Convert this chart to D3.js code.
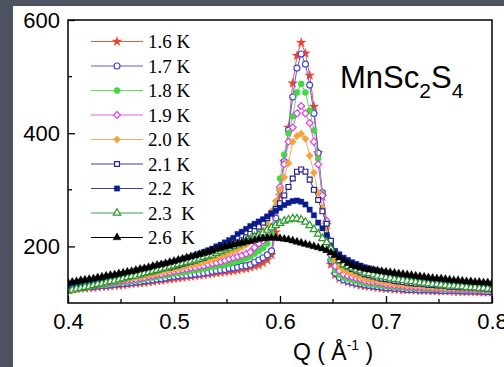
<!DOCTYPE html>
<html>
<head>
<meta charset="utf-8">
<script src="https://cdn.jsdelivr.net/npm/d3@7"></script>
<style>
  html, body { margin: 0; padding: 0; background: #4d5361; }
  svg { display: block; }
</style>
</head>
<body>
<svg id="chart" width="504" height="367"></svg>
<script>
// Scattering momentum transfer Q (Å^-1)
const qValues = [
  0.400,0.404,0.408,0.412,0.416, 0.420,0.424,0.428,0.432,0.436,
  0.440,0.444,0.448,0.452,0.456, 0.460,0.464,0.468,0.472,0.476,
  0.480,0.484,0.488,0.492,0.496, 0.500,0.504,0.508,0.512,0.516,
  0.520,0.524,0.528,0.532,0.536, 0.540,0.544,0.548,0.552,0.556,
  0.560,0.564,0.568,0.572,0.576, 0.580,0.584,0.588,0.592,0.596,
  0.600,0.604,0.608,0.612,0.616, 0.620,0.624,0.628,0.632,0.636,
  0.640,0.644,0.648,0.652,0.656, 0.660,0.664,0.668,0.672,0.676,
  0.680,0.684,0.688,0.692,0.696, 0.700,0.704,0.708,0.712,0.716,
  0.720,0.724,0.728,0.732,0.736, 0.740,0.744,0.748,0.752,0.756,
  0.760,0.764,0.768,0.772,0.776, 0.780,0.784,0.788,0.792,0.796,
  0.800
];

// Intensity at each temperature
const s16 = [
  124,124,125,126,126, 127,127,128,129,129, 130,131,131,132,133, 134,135,135,136,137,
  138,139,140,141,142, 143,144,145,146,147, 148,149,150,151,152, 153,154,155,156,157,
  158,160,161,163,165, 167,171,176,185,225, 290,350,410,488,537, 560,541,502,447,365,
  288,238,168,150,143, 140,137,135,133,131, 130,129,128,127,126, 125,125,124,124,123,
  123,123,122,122,122, 122,121,121,121,121, 121,120,120,120,120, 120,120,119,119,119,
  119
];
const s17 = [
  126,126,127,127,128, 129,129,130,131,131, 132,133,134,134,135, 136,137,138,139,140,
  141,142,143,144,146, 147,148,149,149,150, 151,152,153,154,156, 157,158,159,161,162,
  163,165,166,168,172, 176,180,185,192,250, 300,350,405,464,515, 540,522,485,435,365,
  295,242,175,153,145, 141,139,137,135,134, 132,131,130,129,128, 127,127,126,126,125,
  124,124,124,123,123, 123,123,123,122,122, 122,122,122,121,121, 121,121,121,120,120,
  120
];
const s18 = [
  126,127,128,128,129, 130,131,132,132,133, 134,135,136,137,138, 139,140,141,142,144,
  145,146,148,149,150, 152,153,154,155,157, 158,159,161,162,164, 165,167,168,170,172,
  174,176,179,182,187, 192,197,205,222,270, 320,362,400,430,472, 487,472,440,405,355,
  292,240,178,158,150, 145,143,141,139,137, 135,134,133,132,131, 130,129,129,128,128,
  127,127,126,126,125, 125,125,125,124,124, 124,124,124,123,123, 123,123,123,122,122,
  122
];
const s19 = [
  127,128,129,129,130, 131,132,133,134,135, 136,137,138,139,140, 141,142,144,145,147,
  148,150,151,153,154, 156,157,159,160,162, 163,165,166,168,170, 171,173,175,178,180,
  182,184,187,190,198, 205,210,215,232,265, 305,345,385,410,435, 448,435,418,385,345,
  290,245,185,165,157, 151,148,146,144,142, 139,138,137,136,135, 133,132,131,131,130,
  129,129,128,128,127, 127,127,126,126,126, 125,125,125,125,124, 124,124,124,123,123,
  123
];
const s20 = [
  128,129,130,130,131, 132,133,134,135,137, 138,139,140,142,143, 144,146,147,149,150,
  151,153,155,157,158, 160,161,163,165,167, 168,170,172,175,177, 180,183,186,189,192,
  195,199,203,210,216, 222,228,240,262,280, 300,322,347,385,395, 399,390,360,330,295,
  268,232,200,175,165, 158,155,152,149,147, 143,142,141,139,138, 136,135,134,133,132,
  131,131,130,130,129, 129,128,128,128,127, 127,127,126,126,126, 126,125,125,125,124,
  124
];
const s21 = [
  130,131,132,133,134, 135,136,137,138,140, 141,142,144,145,146, 148,150,151,153,155,
  156,158,160,162,163, 165,167,169,171,173, 175,178,180,183,186, 189,192,196,199,203,
  207,211,216,222,227, 235,242,250,258,266, 276,290,305,320,332, 336,332,318,300,282,
  262,240,210,185,175, 168,164,160,157,154, 151,149,147,145,143, 142,141,139,138,137,
  136,135,134,134,133, 132,132,131,131,130, 129,129,128,128,128, 127,127,126,126,125,
  125
];
const s22 = [
  133,134,135,137,138, 139,140,142,143,145, 146,148,149,151,152, 154,156,158,160,161,
  163,165,167,169,170, 172,174,177,179,181, 184,187,190,193,196, 200,203,207,211,215,
  222,226,231,236,240, 244,248,253,258,263, 268,273,277,280,281, 279,274,265,255,242,
  232,220,200,192,186, 180,176,172,169,166, 163,161,159,157,155, 153,151,150,148,147,
  146,144,143,142,141, 139,139,138,137,137, 136,135,135,134,134, 134,133,133,132,132,
  132
];
const s23 = [
  121,123,125,126,128, 129,131,133,134,136, 138,139,141,143,145, 147,148,150,152,154,
  156,158,160,162,164, 166,168,170,172,174, 176,178,181,183,185, 188,191,194,197,200,
  203,206,210,213,217, 220,224,229,233,237, 241,245,247,249,249, 247,243,237,230,222,
  214,207,196,185,175, 168,165,162,159,157, 153,152,150,148,147, 145,144,142,141,140,
  139,138,137,136,135, 134,133,133,132,131, 130,130,129,129,128, 127,127,126,126,125,
  125
];
const s26 = [
  136,137,138,140,141, 142,143,145,146,148, 149,150,152,153,155, 156,158,160,161,163,
  165,167,168,170,172, 174,176,178,180,182, 184,186,188,190,192, 195,197,199,201,203,
  205,206,208,209,211, 213,214,215,215,215, 214,213,212,210,208, 206,204,202,200,198,
  196,193,189,185,180, 175,170,166,164,162, 160,159,158,157,156, 155,154,153,152,151,
  150,149,148,147,146, 145,144,143,143,142, 141,140,140,139,138, 138,137,137,136,136,
  135
];

const seriesLabels = ["1.6 K", "1.7 K", "1.8 K", "1.9 K", "2.0 K", "2.1 K", "2.2  K", "2.3  K", "2.6  K"];
const seriesValues = [s16, s17, s18, s19, s20, s21, s22, s23, s26];

const xTicks = [0.4, 0.5, 0.6, 0.7, 0.8];
const xMinorTicks = [0.45, 0.55, 0.65, 0.75];
const yTicks = [200, 400, 600];
const yMinorTicks = [300, 500];

// Marker style for each temperature
const diamond = {
  draw(ctx, size) {
    const r = Math.sqrt(size / 2);
    ctx.moveTo(0, -r); ctx.lineTo(r, 0); ctx.lineTo(0, r); ctx.lineTo(-r, 0); ctx.closePath();
  }
};
const styles = [
  { shape: d3.symbolStar,     size: 28, color: "#e8452f", line: "#e85a4a", filled: true },
  { shape: d3.symbolCircle,   size: 28, color: "#4545d6", line: "#5c5ce0", filled: false },
  { shape: d3.symbolCircle,   size: 30, color: "#3fdc3f", line: "#5ee05e", filled: true },
  { shape: diamond,           size: 24, color: "#e040e4", line: "#e060e6", filled: false },
  { shape: diamond,           size: 28, color: "#f4a43e", line: "#f2aa5c", filled: true },
  { shape: d3.symbolSquare,   size: 24, color: "#25258f", line: "#3c3c96", filled: false },
  { shape: d3.symbolSquare,   size: 28, color: "#0b1c8c", line: "#3344b0", filled: true },
  { shape: d3.symbolTriangle, size: 24, color: "#28982a", line: "#3fa03f", filled: false },
  { shape: d3.symbolTriangle, size: 28, color: "#000000", line: "#000000", filled: true }
];

const svg = d3.select("#chart");

// White figure panel
svg.append("rect").attr("x", 13).attr("y", 6).attr("width", 491).attr("height", 361).attr("fill", "#ffffff");

const plotLeft = 68, plotRight = 492, plotTop = 20, plotBottom = 303;
const x = d3.scaleLinear().domain([0.4, 0.8]).range([plotLeft, plotRight]);
const y = d3.scaleLinear().domain([100, 600]).range([plotBottom, plotTop]);

svg.append("clipPath").attr("id", "plot-clip")
  .append("rect").attr("x", plotLeft).attr("y", plotTop)
  .attr("width", plotRight - plotLeft).attr("height", plotBottom - plotTop);

const plot = svg.append("g").attr("clip-path", "url(#plot-clip)");

const line = d3.line().x((d, i) => x(qValues[i])).y(d => y(d));

seriesValues.forEach((vals, k) => {
  const st = styles[k];
  const g = plot.append("g");
  g.append("path").attr("d", line(vals)).attr("fill", "none")
    .attr("stroke", st.line).attr("stroke-width", 1);
  g.selectAll("path.m").data(vals).join("path").attr("class", "m")
    .attr("transform", (d, i) => `translate(${x(qValues[i])},${y(d)})`)
    .attr("d", d3.symbol().type(st.shape).size(st.size))
    .attr("fill", st.filled ? st.color : "#ffffff")
    .attr("stroke", st.color)
    .attr("stroke-width", st.filled ? 0.4 : 1.2);
});

// Axes with inward ticks
const font = "'Liberation Sans', Arial, Helvetica, sans-serif";
const xAxis = svg.append("g").attr("transform", `translate(0,${plotBottom})`)
  .call(d3.axisBottom(x).tickValues(xTicks).tickFormat(d3.format(".1f")).tickSizeInner(-7).tickSizeOuter(0).tickPadding(10));
const yAxis = svg.append("g").attr("transform", `translate(${plotLeft},0)`)
  .call(d3.axisLeft(y).tickValues(yTicks).tickFormat(d3.format("d")).tickSizeInner(-7).tickSizeOuter(0).tickPadding(8));
[xAxis, yAxis].forEach(a => {
  a.select(".domain").remove();
  a.selectAll(".tick line").attr("stroke", "#000").attr("stroke-width", 1.3);
  a.selectAll(".tick text").attr("fill", "#000").style("font-family", font).style("font-size", "22px");
});

svg.append("g").selectAll("line").data(xMinorTicks).join("line")
  .attr("x1", d => x(d)).attr("x2", d => x(d)).attr("y1", plotBottom).attr("y2", plotBottom - 4)
  .attr("stroke", "#000").attr("stroke-width", 1.3);
svg.append("g").selectAll("line").data(yMinorTicks).join("line")
  .attr("x1", plotLeft).attr("x2", plotLeft + 4).attr("y1", d => y(d)).attr("y2", d => y(d))
  .attr("stroke", "#000").attr("stroke-width", 1.3);

// Frame
svg.append("rect").attr("x", plotLeft).attr("y", plotTop)
  .attr("width", plotRight - plotLeft).attr("height", plotBottom - plotTop)
  .attr("fill", "none").attr("stroke", "#000").attr("stroke-width", 1.5);

// Axis title
const xt = svg.append("text").attr("x", 293).attr("y", 360)
  .style("font-family", font).style("font-size", "23px").attr("fill", "#000")
  .style("white-space", "pre");
xt.append("tspan").text("Q ( Å");
xt.append("tspan").attr("dy", -10).style("font-size", "14px").text("-1");
xt.append("tspan").attr("dy", 10).text(" )");

// Compound label
const lab = svg.append("text").attr("x", 340).attr("y", 88)
  .style("font-family", font).style("font-size", "31px").attr("fill", "#000");
lab.append("tspan").text("MnSc");
lab.append("tspan").attr("dy", 10).style("font-size", "21px").text("2");
lab.append("tspan").attr("dy", -10).text("S");
lab.append("tspan").attr("dy", 10).style("font-size", "21px").text("4");

// Legend
const legend = svg.append("g");
seriesLabels.forEach((name, k) => {
  const st = styles[k];
  const ly = 41.5 + k * 24.5;
  legend.append("line").attr("x1", 91).attr("x2", 143).attr("y1", ly).attr("y2", ly)
    .attr("stroke", st.line).attr("stroke-width", 1);
  legend.append("path").attr("transform", `translate(117,${ly})`)
    .attr("d", d3.symbol().type(st.shape).size(st.size))
    .attr("fill", st.filled ? st.color : "#ffffff")
    .attr("stroke", st.color).attr("stroke-width", st.filled ? 0.4 : 1.2);
  legend.append("text").attr("x", 148).attr("y", ly + 6.5)
    .style("font-family", "'Liberation Serif', 'Times New Roman', serif")
    .style("font-size", "19px").style("white-space", "pre").attr("fill", "#000")
    .text(name);
});
</script>
</body>
</html>
